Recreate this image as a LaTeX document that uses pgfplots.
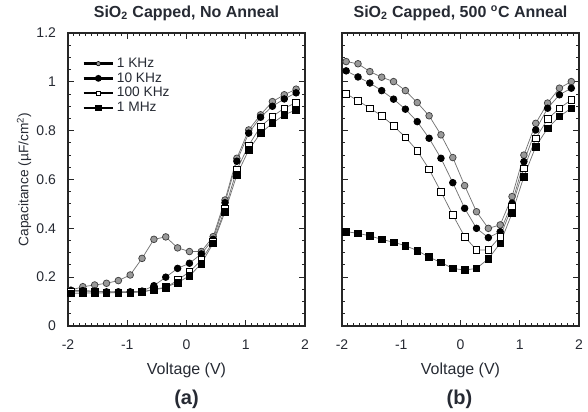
\documentclass[border=0pt]{standalone}
\usepackage{fontspec}
\setmainfont{Liberation Sans}
\usepackage{pgfplots}
\pgfplotsset{compat=1.18}

\definecolor{txt}{HTML}{262A33}

\pgfplotsset{
  cv/.style={
    width=177.75pt, height=219.75pt, scale only axis,
    xmin=-2, xmax=2, ymin=0, ymax=1.2,
    xtick={-2,-1,0,1,2},
    ytick={0,0.2,0.4,0.6,0.8,1,1.2},
    minor x tick num=9, minor y tick num=3,
    tick align=inside,
    major tick length=4.5pt, minor tick length=2.4pt,
    axis line style={line width=0.9pt, black!85},
    every tick/.style={line width=0.7pt, black!85},
    ticklabel style={font=\fontsize{10.5}{12}\selectfont, text=txt},
    xticklabel style={yshift=-7pt},
    yticklabel style={xshift=-5.5pt},
    /pgf/number format/assume math mode=true,
    xlabel={Voltage (V)},
    xlabel style={font=\fontsize{12}{14}\selectfont, text=txt,
      at={(axis description cs:0.5,0)}, anchor=center, yshift=-33.5pt},
    title style={font=\bfseries\fontsize{12}{14}\selectfont, text=txt,
      at={(axis description cs:0.5,1)}, anchor=base, yshift=6pt},
    legend image code/.code={%
      \draw[mark repeat=2,mark phase=2,#1] plot coordinates {(0pt,0pt)(11pt,0pt)(22pt,0pt)};},
  },
  ser/.style={color=black!55, line width=0.55pt, mark size=2.5pt,
    mark options={solid, line width=0.5pt}},
  khz1/.style={ser, mark=*, mark options={fill=black!40, draw=black!75}},
  khz10/.style={ser, mark=*, mark options={fill=black, draw=black}},
  khz100/.style={ser, mark=square*, mark options={fill=white, draw=black}},
  mhz1/.style={ser, mark=square*, mark options={fill=black, draw=black}},
}

\begin{document}
\begin{tikzpicture}
\useasboundingbox (-51pt,-63.75pt) rectangle (390pt,244.5pt);

% (a) no anneal
\begin{axis}[
  cv,
  at={(0pt,0pt)}, anchor=south west,
  title={SiO\textsubscript{2} Capped, No Anneal},
  ylabel={Capacitance (µF/cm\textsuperscript{2})},
  ylabel style={font=\fontsize{10.3}{12}\selectfont, text=txt, yshift=-3pt},
  legend style={at={(0.06,0.925)}, anchor=north west, draw=none, fill=none,
    font=\fontsize{10.3}{12}\selectfont, text=txt, inner sep=0pt, row sep=-1.6pt},
  legend cell align=left,
]
\addplot[khz1, forget plot] coordinates {
  (-1.95,0.147) (-1.75,0.161) (-1.55,0.168) (-1.35,0.175) (-1.15,0.186)
  (-0.95,0.209) (-0.75,0.277) (-0.55,0.355) (-0.35,0.365) (-0.15,0.32)
  (0.05,0.305) (0.25,0.305) (0.45,0.366) (0.65,0.516) (0.85,0.687)
  (1.05,0.803) (1.25,0.865) (1.45,0.919) (1.65,0.947) (1.85,0.97)
};
\addplot[khz10, forget plot] coordinates {
  (-1.95,0.145) (-1.75,0.145) (-1.55,0.143) (-1.35,0.14) (-1.15,0.14)
  (-0.95,0.14) (-0.75,0.143) (-0.55,0.165) (-0.35,0.2) (-0.15,0.236)
  (0.05,0.257) (0.25,0.295) (0.45,0.355) (0.65,0.505) (0.85,0.675)
  (1.05,0.79) (1.25,0.855) (1.45,0.9) (1.65,0.93) (1.85,0.955)
};
\addplot[khz100, forget plot] coordinates {
  (-1.95,0.14) (-1.75,0.14) (-1.55,0.14) (-1.35,0.138) (-1.15,0.138)
  (-0.95,0.138) (-0.75,0.14) (-0.55,0.148) (-0.35,0.157) (-0.15,0.188)
  (0.05,0.222) (0.25,0.27) (0.45,0.345) (0.65,0.48) (0.85,0.64)
  (1.05,0.74) (1.25,0.817) (1.45,0.858) (1.65,0.892) (1.85,0.915)
};
\addplot[mhz1, forget plot] coordinates {
  (-1.95,0.133) (-1.75,0.135) (-1.55,0.135) (-1.35,0.135) (-1.15,0.137)
  (-0.95,0.137) (-0.75,0.14) (-0.55,0.15) (-0.35,0.159) (-0.15,0.178)
  (0.05,0.205) (0.25,0.255) (0.45,0.339) (0.65,0.468) (0.85,0.619)
  (1.05,0.721) (1.25,0.79) (1.45,0.83) (1.65,0.865) (1.85,0.885)
};
\addlegendimage{black, line width=1.8pt, mark=*, mark size=1.6pt, mark options={fill=black!40, line width=0.5pt}}
\addlegendentry{1 KHz}
\addlegendimage{black, line width=1.8pt, mark=*, mark size=1.6pt}
\addlegendentry{10 KHz}
\addlegendimage{black, line width=1.8pt, mark=square*, mark size=1.6pt, mark options={fill=white, line width=0.6pt}}
\addlegendentry{100 KHz}
\addlegendimage{black, line width=1.8pt, mark=square*, mark size=1.6pt}
\addlegendentry{1 MHz}
\end{axis}

% (b) 500 C anneal
\begin{axis}[
  cv,
  at={(205.5pt,0pt)}, anchor=south west,
  title={SiO\textsubscript{2} Capped, 500 \textsuperscript{o}C Anneal},
  yticklabels={},
]
\addplot[khz1] coordinates {
  (-1.93,1.083) (-1.73,1.074) (-1.53,1.042) (-1.33,1.019) (-1.13,1.001)
  (-0.93,0.964) (-0.73,0.915) (-0.53,0.861) (-0.33,0.783) (-0.13,0.69)
  (0.07,0.575) (0.27,0.468) (0.47,0.40) (0.67,0.414) (0.87,0.53)
  (1.07,0.70) (1.27,0.83) (1.47,0.913) (1.67,0.974) (1.87,1.001)
};
\addplot[khz10] coordinates {
  (-1.93,1.045) (-1.73,1.02) (-1.53,0.995) (-1.33,0.964) (-1.13,0.929)
  (-0.93,0.888) (-0.73,0.837) (-0.53,0.769) (-0.33,0.687) (-0.13,0.587)
  (0.07,0.482) (0.27,0.40) (0.47,0.362) (0.67,0.386) (0.87,0.503)
  (1.07,0.673) (1.27,0.803) (1.47,0.892) (1.67,0.947) (1.87,0.974)
};
\addplot[khz100] coordinates {
  (-1.93,0.951) (-1.73,0.923) (-1.53,0.892) (-1.33,0.861) (-1.13,0.82)
  (-0.93,0.773) (-0.73,0.718) (-0.53,0.642) (-0.33,0.55) (-0.13,0.455)
  (0.07,0.366) (0.27,0.311) (0.47,0.311) (0.67,0.366) (0.87,0.489)
  (1.07,0.646) (1.27,0.769) (1.47,0.847) (1.67,0.892) (1.87,0.926)
};
\addplot[mhz1] coordinates {
  (-1.93,0.386) (-1.73,0.38) (-1.53,0.369) (-1.33,0.355) (-1.13,0.343)
  (-0.93,0.329) (-0.73,0.309) (-0.53,0.282) (-0.33,0.26) (-0.13,0.236)
  (0.07,0.229) (0.27,0.236) (0.47,0.275) (0.67,0.339) (0.87,0.462)
  (1.07,0.612) (1.27,0.735) (1.47,0.81) (1.67,0.858) (1.87,0.892)
};
\end{axis}

\node[font=\bfseries\fontsize{15}{17}\selectfont, text=txt] at (88.9pt,-55pt) {(a)};
\node[font=\bfseries\fontsize{15}{17}\selectfont, text=txt] at (293.6pt,-55pt) {(b)};
\end{tikzpicture}
\end{document}
